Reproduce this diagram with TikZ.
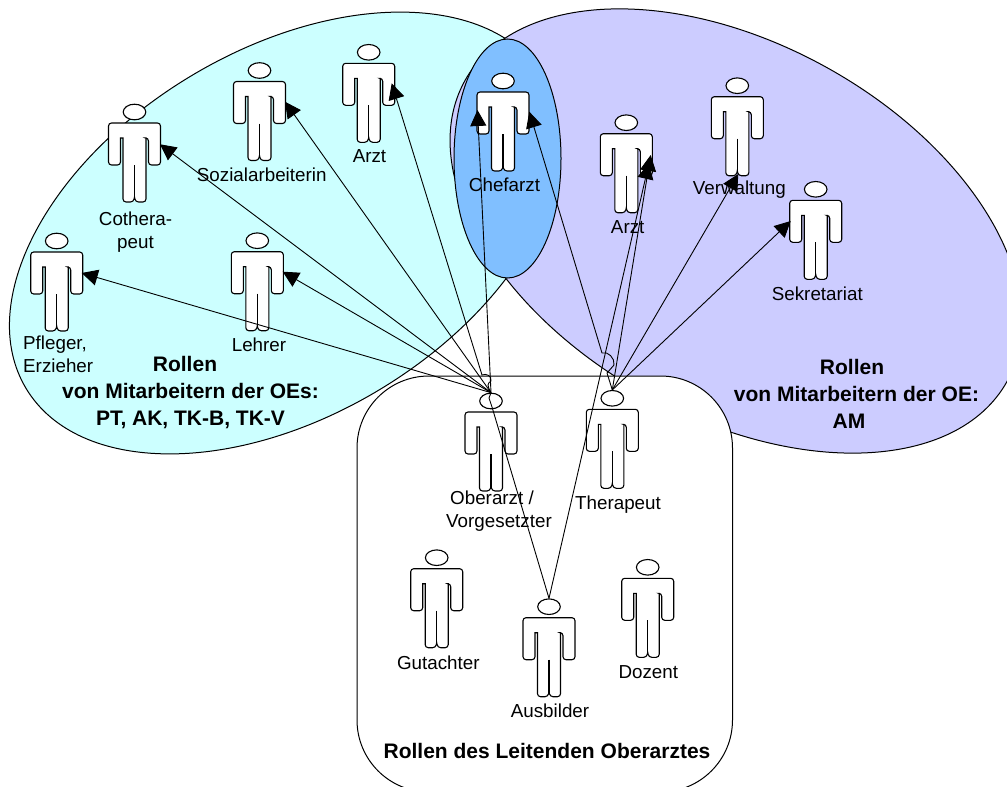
\documentclass[tikz,border=0pt]{standalone}
\usepackage{fontspec}
\setmainfont{Liberation Sans}
\usetikzlibrary{shapes.geometric,arrows.meta}
\definecolor{cyanarea}{HTML}{CCFFFF}
\definecolor{purplearea}{HTML}{CCCCFF}
\definecolor{bluearea}{HTML}{80BFFF}
\tikzset{
  area/.style={draw=black,line width=1pt},
  bodyline/.style={draw=black,fill=white,line width=1.1pt,rounded corners=3pt},
  headnode/.style={ellipse,draw=black,fill=white,line width=1.1pt,minimum width=22.6pt,minimum height=15.6pt,inner sep=0pt},
  link/.style={draw=black,line width=0.9pt,-{Triangle[length=16pt,width=16pt]}},
  plainlink/.style={draw=black,line width=0.9pt},
  lbl/.style={font=\fontsize{18.8pt}{23pt}\selectfont,align=center,inner sep=0pt},
  boldlbl/.style={font=\fontsize{21pt}{27pt}\selectfont\bfseries,align=center,inner sep=0pt}
}
\newcommand{\personfig}[3]{%
  \begin{scope}[shift={(#2,#3)}]
    \draw[bodyline] (-14,26) -- (-14,53) -- (-26,53) -- (-26,11) -- (26,11) -- (26,53) -- (14,53) -- (14,26)
       [sharp corners] -- (11.5,26) [rounded corners=3pt] -- (11.5,90) -- (1,90) [sharp corners] -- (0,85) [rounded corners=3pt] -- (-1,90) -- (-11.5,90) [sharp corners] -- (-11.5,26) -- cycle;
    \draw[black,line width=1.1pt] (0,53) -- (0,86);
  \end{scope}
  \node[headnode] (#1) at (#2,#3) {};
}
\begin{document}
\begin{tikzpicture}[x=1pt,y=1pt,yscale=-1]
  \clip (0,0) rectangle (1007,787);
  \fill[white] (0,0) rectangle (1007,787);
  % areas
  \draw[area,fill=cyanarea,rotate around={-31:(285,233)}] (285,233) ellipse [x radius=302,y radius=183];
  \draw[area,fill=purplearea,rotate around={29:(736,231)}] (736,231) ellipse [x radius=310,y radius=187];
  \draw[area,fill=bluearea] (507.5,158.5) ellipse [x radius=53.5,y radius=119.5];
  \draw[area,fill=white,rounded corners=72pt] (357,376) rectangle (732.5,792);
  % persons
  \personfig{cother}{134.5}{112}
  \personfig{sozial}{259.5}{70.5}
  \personfig{arztl}{368.7}{52.3}
  \personfig{pfleger}{56.7}{241}
  \personfig{lehrer}{257.3}{240.7}
  \personfig{chef}{503}{81}
  \personfig{arztr}{626.3}{122.7}
  \personfig{verw}{737.3}{85.7}
  \personfig{sekr}{815.7}{189.3}
  \personfig{ober}{491}{401}
  \personfig{thera}{612.3}{398.3}
  \personfig{gut}{436.7}{557.7}
  \personfig{doz}{647.7}{567.3}
  \personfig{ausb}{549}{606.7}
  % arrow ends
  \coordinate (tPfleger) at (81.7,273);
  \coordinate (tLehrer) at (282.7,271.7);
  \coordinate (tCother) at (160,144.3);
  \coordinate (tSozial) at (285,101.7);
  \coordinate (tArztl) at (391.7,83.3);
  \coordinate (tChefL) at (477.5,110);
  \coordinate (tChefR) at (529.3,111.7);
  \coordinate (tArztrA) at (650.7,155);
  \coordinate (tArztrB) at (649,163);
  \coordinate (tVerw) at (738.3,174);
  \coordinate (tSekr) at (790.7,221);
  % connectors
  \draw[link] (ober.north) -- (tPfleger);
  \draw[link] (ober.north) -- (tLehrer);
  \draw[link] (ober.north) -- (tCother);
  \draw[link] (ober.north) -- (tSozial);
  \draw[link] (ober.north) .. controls (487,385) and (487,384) .. (491,381)
     .. controls (492,376) and (486,373) .. (482,375) -- (tArztl);
  \draw[link] (ober.north) -- (tChefL);
  \draw[plainlink] (ausb.north) -- (492,407) -- (489,398) -- (ober.north);
  \draw[link] (ausb.north) -- (tArztrB);
  \draw[link] (thera.north) -- (607,373) -- (614,365)
     .. controls (615,358) and (608,351) .. (602,353) -- (tChefR);
  \draw[link] (thera.north) -- (tArztrA);
  \draw[link] (thera.north) -- (tVerw);
  \draw[link] (thera.north) -- (tSekr);
  % labels
  \node[lbl] (lSozial) at (261.7,175) {Sozialarbeiterin};
  \node[lbl] (lArztl) at (369.5,156.5) {Arzt};
  \node[lbl] (lCother) at (135.5,232) {Cothera-\\peut};
  \node[lbl,align=left,anchor=west] (lPfleger) at (23,354) {Pfleger,\\Erzieher};
  \node[lbl] (lLehrer) at (259,344.5) {Lehrer};
  \node[lbl] (lChef) at (504.5,185) {Chefarzt};
  \node[lbl] (lArztr) at (627.7,226.7) {Arzt};
  \node[lbl] (lVerw) at (739.3,190) {Verwaltung};
  \node[lbl] (lSekr) at (817.3,293.3) {Sekretariat};
  \node[lbl] (lOber) at (499,511.5) {Oberarzt /\hspace*{14pt}\\Vorgesetzter};
  \node[lbl] (lThera) at (618,505) {Therapeut};
  \node[lbl] (lGut) at (438.3,662.3) {Gutachter};
  \node[lbl] (lAusb) at (550,711) {Ausbilder};
  \node[lbl] (lDoz) at (648.3,671.7) {Dozent};
  \node[boldlbl] (rolL) at (190.5,393) {Rollen\hspace*{11pt}\\von Mitarbeitern der OEs:\\PT, AK, TK-B, TK-V};
  \node[boldlbl] (rolR) at (856.5,393.5) {\hspace*{0pt}Rollen\hspace*{9pt}\\von Mitarbeitern der OE:\\AM\hspace*{15pt}};
  \node[boldlbl] (rolO) at (547,750.7) {Rollen des Leitenden Oberarztes};
\end{tikzpicture}
\end{document}
